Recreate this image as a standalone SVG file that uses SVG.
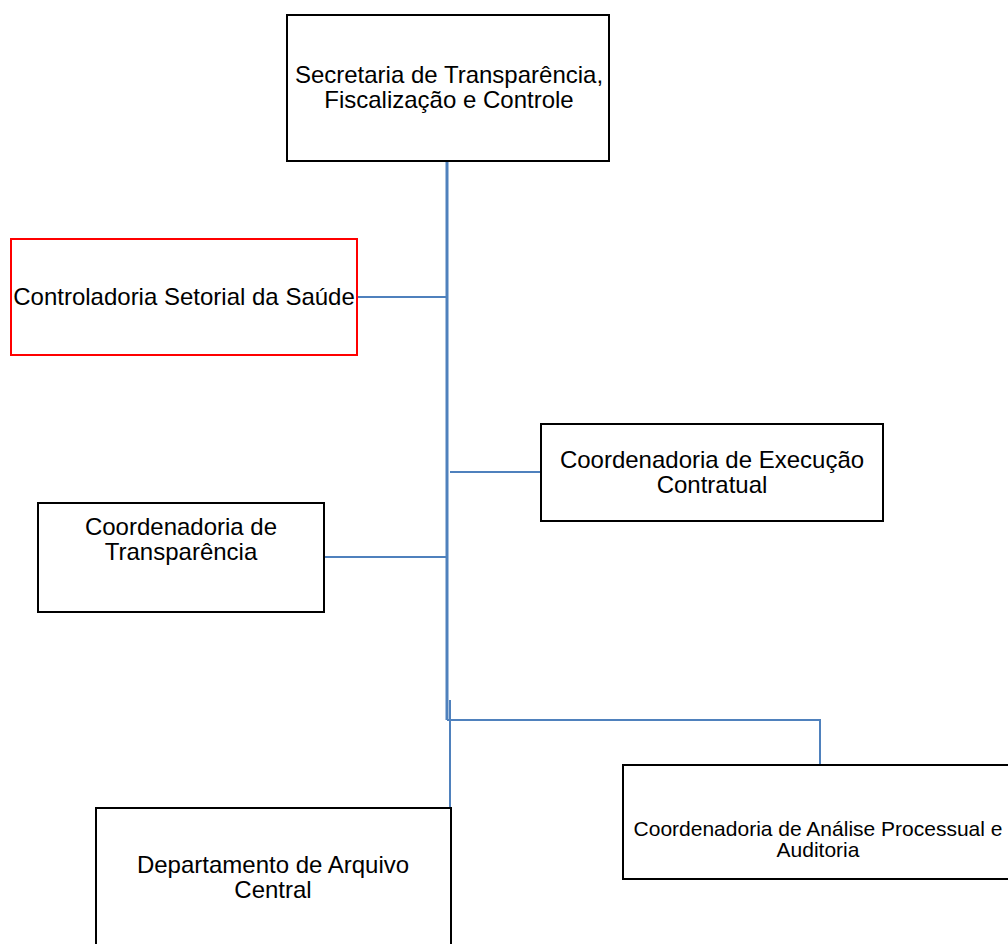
<svg xmlns="http://www.w3.org/2000/svg" width="1008" height="944" viewBox="0 0 1008 944">
<style>
.box{fill:#fff;stroke:#000;stroke-width:2}
.red{fill:#fff;stroke:#ff0000;stroke-width:2}
.t{font-family:"Liberation Sans",Arial,sans-serif;font-size:24px;fill:#000;text-anchor:middle}
.s{font-size:21px}
.c{fill:none;stroke:#4f81bd;stroke-width:2}
.ct{fill:none;stroke:#4f81bd;stroke-width:3}
</style>
<rect width="1008" height="944" fill="#fff"/>
<g id="connectors">
<path class="ct" d="M447,161 V720"/>
<path class="c" d="M447,720 H820 V765"/>
<path class="c" d="M450,700 V808"/>
<path class="c" d="M357,297 H447"/>
<path class="c" d="M450,472 H541"/>
<path class="c" d="M324,557 H447"/>
</g>
<g id="secretaria">
<rect class="box" x="287" y="15" width="322" height="146"/>
<text class="t" x="449" y="83">Secretaria de Transparência,</text>
<text class="t" x="449" y="108">Fiscalização e Controle</text>
</g>
<g id="controladoria">
<rect class="red" x="11" y="239" width="346" height="116"/>
<text class="t" x="184" y="305">Controladoria Setorial da Saúde</text>
</g>
<g id="execucao">
<rect class="box" x="541" y="424" width="342" height="97"/>
<text class="t" x="712" y="468">Coordenadoria de Execução</text>
<text class="t" x="712" y="493">Contratual</text>
</g>
<g id="transparencia">
<rect class="box" x="38" y="503" width="286" height="109"/>
<text class="t" x="181" y="535">Coordenadoria  de</text>
<text class="t" x="181" y="560">Transparência</text>
</g>
<g id="arquivo">
<rect class="box" x="96" y="808" width="355" height="145"/>
<text class="t" x="273" y="873">Departamento de Arquivo</text>
<text class="t" x="273" y="898">Central</text>
</g>
<g id="analise">
<rect class="box" x="623" y="765" width="395" height="114"/>
<text class="t s" x="818" y="836">Coordenadoria de Análise Processual e</text>
<text class="t s" x="818" y="857">Auditoria</text>
</g>
</svg>
